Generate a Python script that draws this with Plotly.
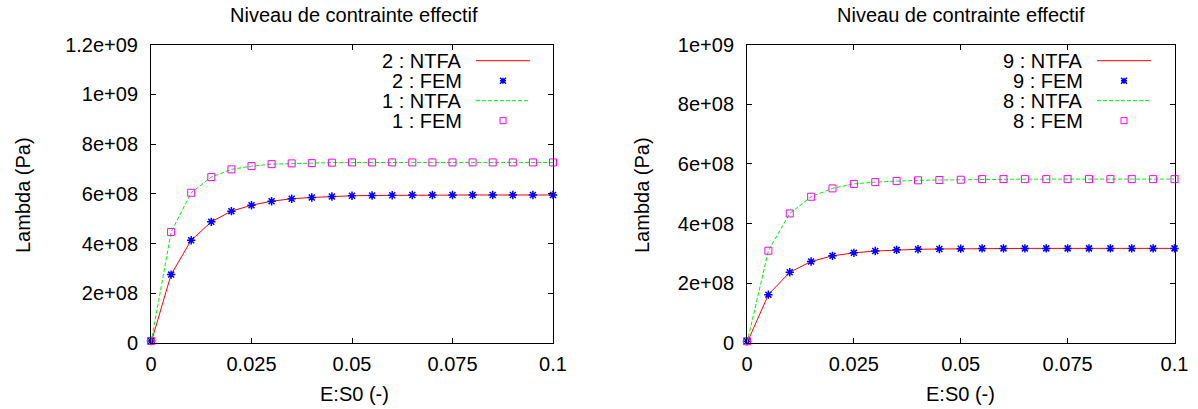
import plotly.graph_objects as go

# ---------------- data ----------------
strain = [0.0, 0.005, 0.01, 0.015, 0.02, 0.025, 0.03, 0.035, 0.04, 0.045, 0.05,
          0.055, 0.06, 0.065, 0.07, 0.075, 0.08, 0.085, 0.09, 0.095, 0.1]

ntfa_2 = [0.0, 2.75e8, 4.13e8, 4.87e8, 5.30e8, 5.54e8, 5.70e8, 5.80e8, 5.85e8, 5.89e8, 5.92e8,
          5.93e8, 5.94e8, 5.95e8, 5.95e8, 5.95e8, 5.95e8, 5.95e8, 5.95e8, 5.95e8, 5.95e8]
fem_2 = [0.8e7, 2.75e8, 4.13e8, 4.87e8, 5.30e8, 5.54e8, 5.70e8, 5.80e8, 5.85e8, 5.89e8, 5.92e8,
         5.93e8, 5.94e8, 5.95e8, 5.95e8, 5.95e8, 5.95e8, 5.95e8, 5.95e8, 5.95e8, 5.95e8]
ntfa_1 = [0.0, 4.46e8, 6.04e8, 6.67e8, 6.98e8, 7.11e8, 7.19e8, 7.22e8, 7.23e8, 7.25e8, 7.26e8,
          7.26e8, 7.26e8, 7.26e8, 7.26e8, 7.26e8, 7.26e8, 7.26e8, 7.26e8, 7.26e8, 7.26e8]
fem_1 = [0.8e7, 4.46e8, 6.04e8, 6.67e8, 6.98e8, 7.11e8, 7.19e8, 7.22e8, 7.23e8, 7.25e8, 7.26e8,
         7.26e8, 7.26e8, 7.26e8, 7.26e8, 7.26e8, 7.26e8, 7.26e8, 7.26e8, 7.26e8, 7.26e8]

ntfa_9 = [0.0, 1.62e8, 2.37e8, 2.73e8, 2.92e8, 3.02e8, 3.08e8, 3.12e8, 3.14e8, 3.15e8, 3.16e8,
          3.17e8, 3.17e8, 3.17e8, 3.17e8, 3.17e8, 3.17e8, 3.17e8, 3.17e8, 3.17e8, 3.17e8]
fem_9 = [0.6e7, 1.62e8, 2.37e8, 2.73e8, 2.92e8, 3.02e8, 3.08e8, 3.12e8, 3.14e8, 3.15e8, 3.16e8,
         3.17e8, 3.17e8, 3.17e8, 3.17e8, 3.17e8, 3.17e8, 3.17e8, 3.17e8, 3.17e8, 3.17e8]
ntfa_8 = [0.0, 3.09e8, 4.34e8, 4.90e8, 5.18e8, 5.33e8, 5.39e8, 5.43e8, 5.45e8, 5.46e8, 5.47e8,
          5.49e8, 5.49e8, 5.49e8, 5.49e8, 5.49e8, 5.49e8, 5.49e8, 5.49e8, 5.49e8, 5.49e8]
fem_8 = [0.6e7, 3.09e8, 4.34e8, 4.90e8, 5.18e8, 5.33e8, 5.39e8, 5.43e8, 5.45e8, 5.46e8, 5.47e8,
         5.49e8, 5.49e8, 5.49e8, 5.49e8, 5.49e8, 5.49e8, 5.49e8, 5.49e8, 5.49e8, 5.49e8]

x_tickvals = [0, 0.025, 0.05, 0.075, 0.1]
x_ticktext = ["0", "0.025", "0.05", "0.075", "0.1"]
y1_tickvals = [0, 2e8, 4e8, 6e8, 8e8, 1e9, 1.2e9]
y1_ticktext = ["0", "2e+08", "4e+08", "6e+08", "8e+08", "1e+09", "1.2e+09"]
y2_tickvals = [0, 2e8, 4e8, 6e8, 8e8, 1e9]
y2_ticktext = ["0", "2e+08", "4e+08", "6e+08", "8e+08", "1e+09"]

title_text = "Niveau de contrainte effectif"
xlabel = "E:S0 (-)"
ylabel = "Lambda (Pa)"
left_names = ["2 : NTFA", "2 : FEM", "1 : NTFA", "1 : FEM"]
right_names = ["9 : NTFA", "9 : FEM", "8 : NTFA", "8 : FEM"]

# ---------------- styling ----------------
W, H = 1198, 409
FONT = "Liberation Sans, Arial, Helvetica, sans-serif"
FS = 20
RED = "#ff0000"
BLUE = "#0000ff"
GREEN = "#00ee00"
MAGENTA = "#ff00ff"


def px(x):
    return x / W


def py(y):
    return 1 - y / H


fig = go.Figure()


def add_panel(xa, ya, n_a, f_a, n_b, f_b):
    fig.add_trace(go.Scatter(x=strain, y=n_a, mode="lines", xaxis=xa, yaxis=ya,
                             line=dict(color=RED, width=1), showlegend=False, cliponaxis=False))
    fig.add_trace(go.Scatter(x=strain, y=f_a, mode="markers", xaxis=xa, yaxis=ya,
                             marker=dict(symbol="asterisk-open", size=7, color=BLUE,
                                         line=dict(color=BLUE, width=1.5)),
                             showlegend=False, cliponaxis=False))
    fig.add_trace(go.Scatter(x=strain, y=n_b, mode="lines", xaxis=xa, yaxis=ya,
                             line=dict(color=GREEN, width=1, dash="4px,2px"), showlegend=False,
                             cliponaxis=False))
    fig.add_trace(go.Scatter(x=strain, y=f_b, mode="markers", xaxis=xa, yaxis=ya,
                             marker=dict(symbol="square-open", size=7, color=MAGENTA,
                                         line=dict(color=MAGENTA, width=1)),
                             showlegend=False, cliponaxis=False))


add_panel("x", "y", ntfa_2, fem_2, ntfa_1, fem_1)
add_panel("x2", "y2", ntfa_9, fem_9, ntfa_8, fem_8)

ydom = [py(343), py(44.5)]
axis_common = dict(showgrid=False, zeroline=False, showline=True, linecolor="black",
                   linewidth=1, mirror="ticks", ticks="inside", ticklen=5, tickcolor="black",
                   automargin=False,
                   tickfont=dict(family=FONT, size=FS, color="black"))

fig.update_layout(
    width=W, height=H,
    margin=dict(l=0, r=0, t=0, b=0, pad=0, autoexpand=False),
    paper_bgcolor="white", plot_bgcolor="white",
    font=dict(family=FONT, size=FS, color="black"),
    xaxis=dict(domain=[px(151), px(553)], range=[0, 0.1], anchor="y",
               tickmode="array", tickvals=x_tickvals, ticktext=x_ticktext,
               ticklabelstandoff=3, **axis_common),
    yaxis=dict(domain=ydom, range=[0, 1.2e9], anchor="x",
               tickmode="array", tickvals=y1_tickvals, ticktext=y1_ticktext,
               ticklabelstandoff=8, **axis_common),
    xaxis2=dict(domain=[px(747), px(1174.5)], range=[0, 0.1], anchor="y2",
                tickmode="array", tickvals=x_tickvals, ticktext=x_ticktext,
                ticklabelstandoff=3, **axis_common),
    yaxis2=dict(domain=ydom, range=[0, 1e9], anchor="x2",
                tickmode="array", tickvals=y2_tickvals, ticktext=y2_ticktext,
                ticklabelstandoff=8, **axis_common),
)

ann = []
shapes = []


def text(x, y, s, xanchor="center", angle=0):
    ann.append(dict(x=px(x), y=py(y), xref="paper", yref="paper", text=s, showarrow=False,
                    xanchor=xanchor, yanchor="middle", textangle=angle, borderpad=0,
                    font=dict(family=FONT, size=FS, color="black")))


text(354, 15, title_text)
text(960.5, 15, title_text)
text(354, 394, xlabel)
text(960.5, 394, xlabel)
text(23, 195, ylabel, angle=-90)
text(642, 195, ylabel, angle=-90)


def legend(names, text_right, line_x0, line_x1, mark_x):
    rows = [60.7, 80.7, 100.7, 120.7]
    for name, yy in zip(names, rows):
        text(text_right, yy, name, xanchor="right")
    shapes.append(dict(type="line", xref="paper", yref="paper",
                       x0=px(line_x0), x1=px(line_x1), y0=py(rows[0]), y1=py(rows[0]),
                       line=dict(color=RED, width=1)))
    shapes.append(dict(type="line", xref="paper", yref="paper",
                       x0=px(line_x0), x1=px(line_x1), y0=py(rows[2]), y1=py(rows[2]),
                       line=dict(color=GREEN, width=1, dash="4px,2px")))
    shapes.append(dict(type="path", xref="paper", yref="paper",
                       xsizemode="pixel", ysizemode="pixel",
                       xanchor=px(mark_x), yanchor=py(rows[1]),
                       path="M-3,0 L3,0 M0,-3 L0,3 M-3,-3 L3,3 M-3,3 L3,-3",
                       line=dict(color=BLUE, width=1.5)))
    shapes.append(dict(type="rect", xref="paper", yref="paper",
                       xsizemode="pixel", ysizemode="pixel",
                       xanchor=px(mark_x), yanchor=py(rows[3]),
                       x0=-3, x1=3, y0=-3, y1=3,
                       line=dict(color=MAGENTA, width=1)))


legend(left_names, 463, 476, 530, 503)
legend(right_names, 1084, 1097, 1151, 1124)

fig.update_layout(annotations=ann, shapes=shapes)

fig.write_html("out.html",
               config={"displayModeBar": False},
               post_script="document.body.style.margin='0';"
                           "document.body.style.overflow='hidden';")
